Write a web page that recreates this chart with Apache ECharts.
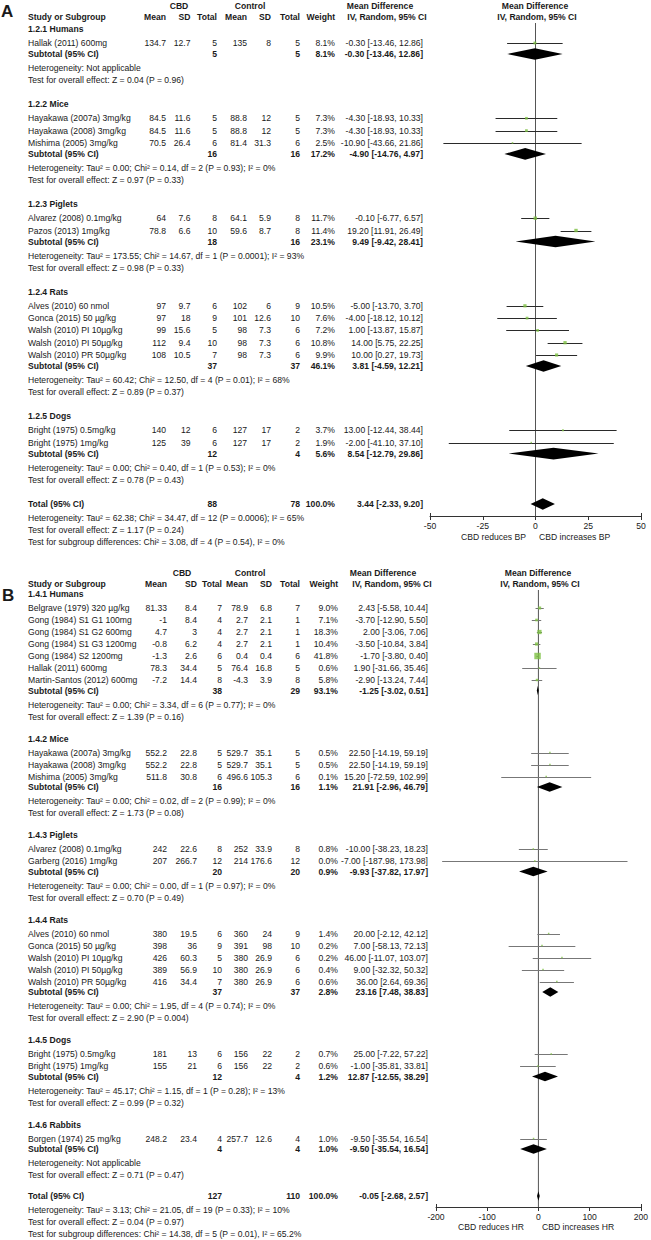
<!DOCTYPE html>
<html><head><meta charset="utf-8">
<script src="https://cdn.jsdelivr.net/npm/echarts@6/dist/echarts.min.js"></script>
<style>html,body{margin:0;padding:0;background:#fff}#c{width:651px;height:1240px}</style>
</head><body><div id="c"></div><script>
// ---------------- DATA: panel A (blood pressure) ----------------
const A_groups = ['1.2.1 Humans','1.2.2 Mice','1.2.3 Piglets','1.2.4 Rats','1.2.5 Dogs'];
const A_names = ['Hallak (2011) 600mg','Hayakawa (2007a) 3mg/kg','Hayakawa (2008) 3mg/kg','Mishima (2005) 3mg/kg',
  'Alvarez (2008) 0.1mg/kg','Pazos (2013) 1mg/kg','Alves (2010) 60 nmol','Gonca (2015) 50 µg/kg',
  'Walsh (2010) PI 10µg/kg','Walsh (2010) PI 50µg/kg','Walsh (2010) PR 50µg/kg','Bright (1975) 0.5mg/kg','Bright (1975) 1mg/kg'];
const A_group = [0,1,1,1,2,2,3,3,3,3,3,4,4];
const A_cbdMean = [134.7,84.5,84.5,70.5,64,78.8,97,97,99,112,108,140,125];
const A_cbdSD = [12.7,11.6,11.6,26.4,7.6,6.6,9.7,18,15.6,9.4,10.5,12,39];
const A_cbdN = [5,5,5,6,8,10,6,9,5,10,7,6,6];
const A_ctlMean = [135,88.8,88.8,81.4,64.1,59.6,102,101,98,98,98,127,127];
const A_ctlSD = [8,12,12,31.3,5.9,8.7,6,12.6,7.3,7.3,7.3,17,17];
const A_ctlN = [5,5,5,6,8,8,9,10,6,6,6,2,2];
const A_weight = [8.1,7.3,7.3,2.5,11.7,11.4,10.5,7.6,7.2,10.8,9.9,3.7,1.9];
const A_md = [-0.30,-4.30,-4.30,-10.90,-0.10,19.20,-5.00,-4.00,1.00,14.00,10.00,13.00,-2.00];
const A_lo = [-13.46,-18.93,-18.93,-43.66,-6.77,11.91,-13.70,-18.12,-13.87,5.75,0.27,-12.44,-41.10];
const A_hi = [12.86,10.33,10.33,21.86,6.57,26.49,3.70,10.12,15.87,22.25,19.73,38.44,37.10];
const A_subCbdN = [5,16,18,37,12];
const A_subCtlN = [5,16,16,37,4];
const A_subWeight = [8.1,17.2,23.1,46.1,5.6];
const A_subMd = [-0.30,-4.90,9.49,3.81,8.54];
const A_subLo = [-13.46,-14.76,-9.42,-4.59,-12.79];
const A_subHi = [12.86,4.97,28.41,12.21,29.86];
const A_subHet = ['Heterogeneity: Not applicable',
  'Heterogeneity: Tau² = 0.00; Chi² = 0.14, df = 2 (P = 0.93); I² = 0%',
  'Heterogeneity: Tau² = 173.55; Chi² = 14.67, df = 1 (P = 0.0001); I² = 93%',
  'Heterogeneity: Tau² = 60.42; Chi² = 12.50, df = 4 (P = 0.01); I² = 68%',
  'Heterogeneity: Tau² = 0.00; Chi² = 0.40, df = 1 (P = 0.53); I² = 0%'];
const A_subZ = ['Z = 0.04 (P = 0.96)','Z = 0.97 (P = 0.33)','Z = 0.98 (P = 0.33)','Z = 0.89 (P = 0.37)','Z = 0.78 (P = 0.43)'];
const A_total = [88,78,100.0];
const A_totalEffect = [3.44,-2.33,9.20];
const A_totalNotes = ['Heterogeneity: Tau² = 62.38; Chi² = 34.47, df = 12 (P = 0.0006); I² = 65%',
  'Test for overall effect: Z = 1.17 (P = 0.24)',
  'Test for subgroup differences: Chi² = 3.08, df = 4 (P = 0.54), I² = 0%'];
const A_ticks = [-50,-25,0,25,50];
const A_favours = ['CBD reduces BP','CBD increases BP'];

// ---------------- DATA: panel B (heart rate) ----------------
const B_groups = ['1.4.1 Humans','1.4.2 Mice','1.4.3 Piglets','1.4.4 Rats','1.4.5 Dogs','1.4.6 Rabbits'];
const B_names = ['Belgrave (1979) 320 µg/kg','Gong (1984) S1 G1 100mg','Gong (1984) S1 G2 600mg','Gong (1984) S1 G3 1200mg',
  'Gong (1984) S2 1200mg','Hallak (2011) 600mg','Martin-Santos (2012) 600mg','Hayakawa (2007a) 3mg/kg',
  'Hayakawa (2008) 3mg/kg','Mishima (2005) 3mg/kg','Alvarez (2008) 0.1mg/kg','Garberg (2016) 1mg/kg',
  'Alves (2010) 60 nmol','Gonca (2015) 50 µg/kg','Walsh (2010) PI 10µg/kg','Walsh (2010) PI 50µg/kg',
  'Walsh (2010) PR 50µg/kg','Bright (1975) 0.5mg/kg','Bright (1975) 1mg/kg','Borgen (1974) 25 mg/kg'];
const B_group = [0,0,0,0,0,0,0,1,1,1,2,2,3,3,3,3,3,4,4,5];
const B_cbdMean = [81.33,-1,4.7,-0.8,-1.3,78.3,-7.2,552.2,552.2,511.8,242,207,380,398,426,389,416,181,155,248.2];
const B_cbdSD = [8.4,8.4,3,6.2,2.6,34.4,14.4,22.8,22.8,30.8,22.6,266.7,19.5,36,60.3,56.9,34.4,13,21,23.4];
const B_cbdN = [7,4,4,4,6,5,8,5,5,6,8,12,6,9,5,10,7,6,6,4];
const B_ctlMean = [78.9,2.7,2.7,2.7,0.4,76.4,-4.3,529.7,529.7,496.6,252,214,360,391,380,380,380,156,156,257.7];
const B_ctlSD = [6.8,2.1,2.1,2.1,0.4,16.8,3.9,35.1,35.1,105.3,33.9,176.6,24,98,26.9,26.9,26.9,22,22,12.6];
const B_ctlN = [7,1,1,1,6,5,8,5,5,6,8,12,9,10,6,6,6,2,2,4];
const B_weight = [9.0,7.1,18.3,10.4,41.8,0.6,5.8,0.5,0.5,0.1,0.8,0.0,1.4,0.2,0.2,0.4,0.6,0.7,0.6,1.0];
const B_md = [2.43,-3.70,2.00,-3.50,-1.70,1.90,-2.90,22.50,22.50,15.20,-10.00,-7.00,20.00,7.00,46.00,9.00,36.00,25.00,-1.00,-9.50];
const B_lo = [-5.58,-12.90,-3.06,-10.84,-3.80,-31.66,-13.24,-14.19,-14.19,-72.59,-38.23,-187.98,-2.12,-58.13,-11.07,-32.32,2.64,-7.22,-35.81,-35.54];
const B_hi = [10.44,5.50,7.06,3.84,0.40,35.46,7.44,59.19,59.19,102.99,18.23,173.98,42.12,72.13,103.07,50.32,69.36,57.22,33.81,16.54];
const B_subCbdN = [38,16,20,37,12,4];
const B_subCtlN = [29,16,20,37,4,4];
const B_subWeight = [93.1,1.1,0.9,2.8,1.2,1.0];
const B_subMd = [-1.25,21.91,-9.93,23.16,12.87,-9.50];
const B_subLo = [-3.02,-2.96,-37.82,7.48,-12.55,-35.54];
const B_subHi = [0.51,46.79,17.97,38.83,38.29,16.54];
const B_subHet = ['Heterogeneity: Tau² = 0.00; Chi² = 3.34, df = 6 (P = 0.77); I² = 0%',
  'Heterogeneity: Tau² = 0.00; Chi² = 0.02, df = 2 (P = 0.99); I² = 0%',
  'Heterogeneity: Tau² = 0.00; Chi² = 0.00, df = 1 (P = 0.97); I² = 0%',
  'Heterogeneity: Tau² = 0.00; Chi² = 1.95, df = 4 (P = 0.74); I² = 0%',
  'Heterogeneity: Tau² = 45.17; Chi² = 1.15, df = 1 (P = 0.28); I² = 13%',
  'Heterogeneity: Not applicable'];
const B_subZ = ['Z = 1.39 (P = 0.16)','Z = 1.73 (P = 0.08)','Z = 0.70 (P = 0.49)','Z = 2.90 (P = 0.004)','Z = 0.99 (P = 0.32)','Z = 0.71 (P = 0.47)'];
const B_total = [127,110,100.0];
const B_totalEffect = [-0.05,-2.68,2.57];
const B_totalNotes = ['Heterogeneity: Tau² = 3.13; Chi² = 21.05, df = 19 (P = 0.33); I² = 10%',
  'Test for overall effect: Z = 0.04 (P = 0.97)',
  'Test for subgroup differences: Chi² = 14.38, df = 5 (P = 0.01), I² = 65.2%'];
const B_ticks = [-200,-100,0,100,200];
const B_favours = ['CBD reduces HR','CBD increases HR'];

// ---------------- LAYOUT ----------------
const FONT = "'Liberation Sans', Arial, Helvetica, sans-serif";
const FS = 8.6;
const INK = '#1a1a1a';
const GREEN = '#7dc142';

const PANELS = [
  { letter:'A', groups:A_groups, names:A_names, group:A_group, cm:A_cbdMean, csd:A_cbdSD, cn:A_cbdN, km:A_ctlMean, ksd:A_ctlSD, kn:A_ctlN,
    w:A_weight, md:A_md, lo:A_lo, hi:A_hi, sCn:A_subCbdN, sKn:A_subCtlN, sW:A_subWeight, sMd:A_subMd, sLo:A_subLo, sHi:A_subHi,
    het:A_subHet, z:A_subZ, tot:A_total, totE:A_totalEffect, notes:A_totalNotes, ticks:A_ticks, fav:A_favours,
    L:{letterX:1, letterY:11, h1:5.5, h2:17, line:22, lineX:20, start:29, a:14, s:12.3, b:11, c:14, d:12, e:24.3, E:24.4,
       axisY:516, favY:537, diamondH:5.8},
    C:{name:28, cm:166, csd:190.5, cn:217, km:247, ksd:271, kn:300, w:335, md:423, cbdHead:179, ctlHead:250, mdHead:380, ivHead:387,
       plotHead:535, ivPlot:537, plotLeft:430, plotWidth:211, favL:526, favR:539},
    ciColor:'#2a2a2a' },
  { letter:'B', groups:B_groups, names:B_names, group:B_group, cm:B_cbdMean, csd:B_cbdSD, cn:B_cbdN, km:B_ctlMean, ksd:B_ctlSD, kn:B_ctlN,
    w:B_weight, md:B_md, lo:B_lo, hi:B_hi, sCn:B_subCbdN, sKn:B_subCtlN, sW:B_subWeight, sMd:B_subMd, sLo:B_subLo, sHi:B_subHi,
    het:B_subHet, z:B_subZ, tot:B_total, totE:B_totalEffect, notes:B_totalNotes, ticks:B_ticks, fav:B_favours,
    L:{letterX:2, letterY:595, h1:573, h2:584, line:589, lineX:26, start:594, a:14, s:12, b:10.5, c:14, d:12, e:22, E:21,
       axisY:1207, favY:1227, diamondH:4.8},
    C:{name:28, cm:167, csd:197, cn:222, km:248, ksd:272, kn:300, w:338, md:428, cbdHead:182, ctlHead:250, mdHead:383, ivHead:392,
       plotHead:538, ivPlot:540, plotLeft:436, plotWidth:206, favL:524, favR:542},
    ciColor:'#777777' }
];

const G = [];
function T(x, y, s, align, bold, size) {
  align = align || 'left';
  G.push({ type:'text', silent:true, style:{ x:x, y:y, text:String(s), fill:INK,
    font:(bold ? 'bold ' : '') + (size || FS) + 'px ' + FONT,
    textAlign:align, textVerticalAlign:'middle', align:align, verticalAlign:'middle' } });
}
function HL(x1, x2, y) {
  G.push({ type:'line', silent:true, shape:{x1:x1, y1:y, x2:x2, y2:y}, style:{stroke:'#333', lineWidth:1} });
}
const ci = (m, l, h) => m.toFixed(2) + ' [' + l.toFixed(2) + ', ' + h.toFixed(2) + ']';

const grids = [], xAxes = [], yAxes = [], series = [];

PANELS.forEach((P, pi) => {
  const L = P.L, C = P.C;
  // headers
  T(L.letterX, L.letterY, P.letter, 'left', true, 17);
  T(C.cbdHead, L.h1, 'CBD', 'center', true);
  T(C.ctlHead, L.h1, 'Control', 'center', true);
  T(C.mdHead, L.h1, 'Mean Difference', 'center', true);
  T(C.plotHead, L.h1, 'Mean Difference', 'center', true);
  T(C.name, L.h2, 'Study or Subgroup', 'left', true);
  T(C.cm, L.h2, 'Mean', 'right', true);
  T(C.csd, L.h2, 'SD', 'right', true);
  T(C.cn, L.h2, 'Total', 'right', true);
  T(C.km, L.h2, 'Mean', 'right', true);
  T(C.ksd, L.h2, 'SD', 'right', true);
  T(C.kn, L.h2, 'Total', 'right', true);
  T(C.w, L.h2, 'Weight', 'right', true);
  T(C.ivHead, L.h2, 'IV, Random, 95% CI', 'center', true);
  T(C.ivPlot, L.h2, 'IV, Random, 95% CI', 'center', true);
  HL(C.lineX, 651, L.line + 0.5);

  // rows
  const ciData = [], sqData = [], dmData = [];
  let y = L.start, si = 0;
  P.groups.forEach((gname, g) => {
    T(C.name, y, gname, 'left', true);
    y += L.a;
    let first = true;
    while (si < P.names.length && P.group[si] === g) {
      if (!first) y += L.s;
      first = false;
      T(C.name, y, P.names[si]);
      T(C.cm, y, P.cm[si], 'right');
      T(C.csd, y, P.csd[si], 'right');
      T(C.cn, y, P.cn[si], 'right');
      T(C.km, y, P.km[si], 'right');
      T(C.ksd, y, P.ksd[si], 'right');
      T(C.kn, y, P.kn[si], 'right');
      T(C.w, y, P.w[si].toFixed(1) + '%', 'right');
      T(C.md, y, ci(P.md[si], P.lo[si], P.hi[si]), 'right');
      ciData.push([P.lo[si], P.hi[si], y]);
      sqData.push([P.md[si], y, P.w[si]]);
      si++;
    }
    y += L.b;
    T(C.name, y, 'Subtotal (95% CI)', 'left', true);
    T(C.cn, y, P.sCn[g], 'right', true);
    T(C.kn, y, P.sKn[g], 'right', true);
    T(C.w, y, P.sW[g].toFixed(1) + '%', 'right', true);
    T(C.md, y, ci(P.sMd[g], P.sLo[g], P.sHi[g]), 'right', true);
    dmData.push([P.sLo[g], P.sMd[g], P.sHi[g], y]);
    y += L.c; T(C.name, y, P.het[g]);
    y += L.d; T(C.name, y, 'Test for overall effect: ' + P.z[g]);
    y += (g < P.groups.length - 1) ? L.e : L.E;
  });
  // total
  T(C.name, y, 'Total (95% CI)', 'left', true);
  T(C.cn, y, P.tot[0], 'right', true);
  T(C.kn, y, P.tot[1], 'right', true);
  T(C.w, y, P.tot[2].toFixed(1) + '%', 'right', true);
  T(C.md, y, ci(P.totE[0], P.totE[1], P.totE[2]), 'right', true);
  dmData.push([P.totE[1], P.totE[0], P.totE[2], y]);
  T(C.name, y + L.c, P.notes[0]);
  T(C.name, y + L.c + L.d, P.notes[1]);
  T(C.name, y + L.c + 2 * L.d, P.notes[2]);
  // favours labels
  T(C.favL, L.favY, P.fav[0], 'right');
  T(C.favR, L.favY, P.fav[1], 'left');

  // plot grid
  const top = L.line + 1, bottom = L.axisY;
  grids.push({ left:C.plotLeft, width:C.plotWidth, top:top, height:bottom - top, containLabel:false });
  const tk = P.ticks;
  const xmin = tk[0], xmax = tk[tk.length - 1];
  xAxes.push({ gridIndex:pi, type:'value', min:xmin, max:xmax, interval:tk[1] - tk[0],
    axisLine:{ show:true, onZero:false, lineStyle:{ color:'#333', width:1 } },
    axisTick:{ show:true, length:4, lineStyle:{ color:'#333' } },
    axisLabel:{ color:INK, fontSize:FS, fontFamily:FONT, margin:5 },
    splitLine:{ show:false } });
  yAxes.push({ gridIndex:pi, type:'value', min:top, max:bottom, inverse:true, show:false,
    axisLine:{show:false}, splitLine:{show:false} });

  const ciColor = P.ciColor, dh = L.diamondH;
  // zero (line of no effect)
  series.push({ type:'line', xAxisIndex:pi, yAxisIndex:pi, data:[[0, top], [0, bottom]], symbol:'none', silent:true,
    lineStyle:{ color:'#555', width:1 }, z:1, animation:false });
  // end caps of the axis (ticks that also rise above the axis line)
  series.push({ type:'custom', xAxisIndex:pi, yAxisIndex:pi, data:[[xmin, bottom], [xmax, bottom]], encode:{ x:0, y:1 },
    silent:true, z:2,
    renderItem:(params, api) => {
      const p = api.coord([api.value(0), api.value(1)]);
      const x = Math.round(p[0]) + 0.5;
      return { type:'line', shape:{ x1:x, y1:p[1] - 3, x2:x, y2:p[1] }, style:{ stroke:'#333', lineWidth:1 } };
    } });
  // confidence intervals
  series.push({ type:'custom', xAxisIndex:pi, yAxisIndex:pi, data:ciData, encode:{ x:[0, 1], y:2 }, silent:true, z:2,
    renderItem:(params, api) => {
      const yy = api.value(2);
      const p1 = api.coord([api.value(0), yy]), p2 = api.coord([api.value(1), yy]);
      const ly = Math.round(p1[1]) + 0.5;
      return { type:'line', shape:{ x1:p1[0], y1:ly, x2:p2[0], y2:ly }, style:{ stroke:ciColor, lineWidth:1 } };
    } });
  // study weights (squares)
  series.push({ type:'scatter', xAxisIndex:pi, yAxisIndex:pi, data:sqData, symbol:'rect', silent:true, z:3,
    symbolSize:(v) => Math.max(1.5, Math.sqrt(v[2])), itemStyle:{ color:GREEN } });
  // pooled estimates (diamonds)
  series.push({ type:'custom', xAxisIndex:pi, yAxisIndex:pi, data:dmData, encode:{ x:[0, 2], y:3 }, silent:true, z:4,
    renderItem:(params, api) => {
      const yy = api.value(3);
      const l = api.coord([api.value(0), yy]), m = api.coord([api.value(1), yy]), r = api.coord([api.value(2), yy]);
      return { type:'polygon', shape:{ points:[[l[0], l[1]], [m[0], m[1] - dh], [r[0], r[1]], [m[0], m[1] + dh]] },
        style:{ fill:'#000' } };
    } });
});

const chart = echarts.init(document.getElementById('c'), null, { renderer:'svg' });
chart.setOption({
  animation:false,
  backgroundColor:'#fff',
  grid:grids, xAxis:xAxes, yAxis:yAxes, series:series,
  graphic:{ elements:G }
});
</script></body></html>
